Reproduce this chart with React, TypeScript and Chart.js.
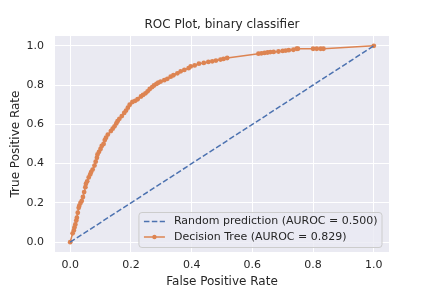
import React, { useEffect, useRef } from "react";
import { Chart, registerables } from "chart.js";

Chart.register(...registerables);

const titleText = "ROC Plot, binary classifier";
const xLabel = "False Positive Rate";
const yLabel = "True Positive Rate";

const randomLabel = "Random prediction (AUROC = 0.500)";
const treeLabel = "Decision Tree (AUROC = 0.829)";

const fprRandom = [0, 1];
const tprRandom = [0, 1];

const fprTree = [
  0, 0.008, 0.012, 0.014, 0.017, 0.02, 0.022, 0.025, 0.028, 0.03, 0.034, 0.038,
  0.042, 0.046, 0.05, 0.052, 0.056, 0.061, 0.066, 0.069, 0.074, 0.08, 0.084,
  0.088, 0.09, 0.095, 0.1, 0.104, 0.11, 0.114, 0.118, 0.124, 0.134, 0.14, 0.146,
  0.152, 0.156, 0.162, 0.17, 0.178, 0.184, 0.19, 0.196, 0.205, 0.214, 0.222,
  0.233, 0.24, 0.248, 0.255, 0.262, 0.27, 0.276, 0.284, 0.29, 0.298, 0.31, 0.32,
  0.331, 0.34, 0.353, 0.364, 0.376, 0.39, 0.397, 0.41, 0.424, 0.44, 0.455, 0.468,
  0.48, 0.495, 0.505, 0.517, 0.62, 0.63, 0.64, 0.65, 0.659, 0.67, 0.686, 0.7,
  0.71, 0.72, 0.735, 0.746, 0.75, 0.8, 0.812, 0.825, 0.834, 1,
];
const tprTree = [
  0, 0.045, 0.06, 0.075, 0.09, 0.11, 0.125, 0.15, 0.175, 0.186, 0.2, 0.21, 0.23,
  0.255, 0.28, 0.297, 0.31, 0.33, 0.345, 0.357, 0.37, 0.39, 0.41, 0.43, 0.447,
  0.46, 0.475, 0.49, 0.5, 0.52, 0.532, 0.548, 0.566, 0.578, 0.59, 0.605, 0.616,
  0.628, 0.642, 0.658, 0.67, 0.685, 0.7, 0.714, 0.72, 0.728, 0.742, 0.75, 0.758,
  0.768, 0.78, 0.79, 0.798, 0.806, 0.812, 0.818, 0.825, 0.832, 0.843, 0.85, 0.86,
  0.87, 0.877, 0.886, 0.895, 0.9, 0.909, 0.913, 0.918, 0.921, 0.925, 0.93, 0.933,
  0.938, 0.96, 0.962, 0.964, 0.966, 0.968, 0.969, 0.971, 0.974, 0.976, 0.978,
  0.98, 0.985, 0.985, 0.985, 0.985, 0.985, 0.985, 1,
];

const axisMin = -0.05;
const axisMax = 1.05;
const tickStep = 0.2;

const BLUE = "#4C72B0";
const ORANGE = "#DD8452";
const TEXT = "#262626";
const BG = "#EAEAF2";
const FONT = "'DejaVu Sans', sans-serif";

const bgPlugin = {
  id: "plotBg",
  beforeDraw(chart: any) {
    const { ctx, chartArea } = chart;
    ctx.save();
    ctx.fillStyle = BG;
    ctx.fillRect(chartArea.left, chartArea.top, chartArea.right - chartArea.left, chartArea.bottom - chartArea.top);
    ctx.restore();
  },
};

const legendPlugin = {
  id: "rocLegend",
  afterDatasetsDraw(chart: any) {
    const { ctx, chartArea } = chart;
    ctx.save();
    ctx.font = `11px ${FONT}`;
    const w1 = ctx.measureText(randomLabel).width;
    const w2 = ctx.measureText(treeLabel).width;
    const tw = Math.max(w1, w2);
    const padL = 5;
    const handle = 21;
    const gap = 9;
    const padR = 4.5;
    const boxW = padL + handle + gap + tw + padR;
    const boxH = 35;
    const boxR = chartArea.right - 7;
    const boxB = chartArea.bottom - 4.5;
    const x0 = boxR - boxW;
    const y0 = boxB - boxH;
    ctx.beginPath();
    (ctx as any).roundRect(x0, y0, boxW, boxH, 3);
    ctx.fillStyle = "rgba(234,234,242,0.8)";
    ctx.fill();
    ctx.strokeStyle = "#CCCCCC";
    ctx.lineWidth = 1;
    ctx.stroke();

    const rows = [
      { label: randomLabel, color: BLUE, dash: [5.5, 2.4], marker: false },
      { label: treeLabel, color: ORANGE, dash: [], marker: true },
    ];
    rows.forEach((r, i) => {
      const cy = y0 + 9 + i * 15.5;
      const hx0 = x0 + padL;
      ctx.beginPath();
      ctx.setLineDash(r.dash);
      ctx.strokeStyle = r.color;
      ctx.lineWidth = 1.5;
      ctx.moveTo(hx0, cy);
      ctx.lineTo(hx0 + handle, cy);
      ctx.stroke();
      ctx.setLineDash([]);
      if (r.marker) {
        ctx.beginPath();
        ctx.fillStyle = r.color;
        ctx.arc(hx0 + handle / 2, cy, 2.2, 0, Math.PI * 2);
        ctx.fill();
      }
      ctx.fillStyle = TEXT;
      ctx.textBaseline = "middle";
      ctx.textAlign = "left";
      ctx.fillText(r.label, hx0 + handle + gap, cy);
    });
    ctx.restore();
  },
};

export default function App() {
  const ref = useRef<HTMLCanvasElement | null>(null);

  useEffect(() => {
    document.body.style.margin = "0";
    const canvas = ref.current;
    if (!canvas) return;
    Chart.defaults.font.family = FONT;
    Chart.defaults.color = TEXT;

    const chart = new Chart(canvas, {
      type: "line",
      data: {
        datasets: [
          {
            label: randomLabel,
            data: fprRandom.map((x, i) => ({ x, y: tprRandom[i] })),
            borderColor: BLUE,
            backgroundColor: BLUE,
            borderWidth: 1.5,
            borderDash: [5.5, 2.4],
            pointRadius: 0,
            fill: false,
          },
          {
            label: treeLabel,
            data: fprTree.map((x, i) => ({ x, y: tprTree[i] })),
            borderColor: ORANGE,
            backgroundColor: ORANGE,
            borderWidth: 1.5,
            pointRadius: 2.4,
            pointBorderWidth: 0,
            pointHoverRadius: 2.4,
            fill: false,
          },
        ],
      },
      options: {
        animation: false,
        responsive: false,
        maintainAspectRatio: false,
        events: [],
        layout: { padding: { left: 0, right: 43, top: 0, bottom: 0 } },
        plugins: {
          legend: { display: false },
          tooltip: { enabled: false },
          title: {
            display: true,
            text: titleText,
            fullSize: false,
            color: TEXT,
            font: { family: FONT, size: 12, weight: "normal", lineHeight: 1.2 },
            padding: { top: 18, bottom: 3.6 },
          },
        },
        scales: {
          x: {
            type: "linear",
            min: axisMin,
            max: axisMax,
            afterFit: (s: any) => {
              s.height = 36;
            },
            grid: { color: "#FFFFFF", lineWidth: 1, drawTicks: false },
            border: { display: false },
            ticks: {
              stepSize: tickStep,
              includeBounds: false,
              padding: 7,
              color: TEXT,
              font: { family: FONT, size: 11 },
              callback: (v: any) => Number(v).toFixed(1),
            },
            title: {
              display: true,
              text: xLabel,
              color: TEXT,
              font: { family: FONT, size: 12, lineHeight: 1 },
              padding: { top: 0, bottom: 0 },
            },
          },
          y: {
            type: "linear",
            min: axisMin,
            max: axisMax,
            afterFit: (s: any) => {
              s.width = 55;
            },
            grid: { color: "#FFFFFF", lineWidth: 1, drawTicks: false },
            border: { display: false },
            ticks: {
              stepSize: tickStep,
              includeBounds: false,
              padding: 11,
              color: TEXT,
              font: { family: FONT, size: 11 },
              callback: (v: any) => Number(v).toFixed(1),
            },
            title: {
              display: true,
              text: yLabel,
              color: TEXT,
              font: { family: FONT, size: 12, lineHeight: 1 },
              padding: { top: 10, bottom: 0 },
            },
          },
        },
      },
      plugins: [bgPlugin, legendPlugin],
    });
    return () => chart.destroy();
  }, []);

  return (
    <div style={{ width: 432, height: 288 }}>
      <canvas ref={ref} width={432} height={288} style={{ display: "block", width: 432, height: 288 }} />
    </div>
  );
}
